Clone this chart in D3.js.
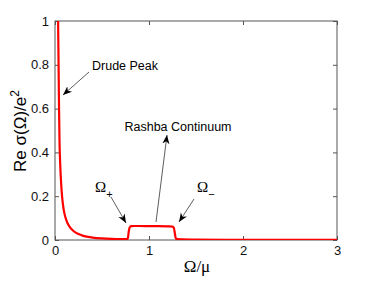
<!DOCTYPE html>
<html><head><meta charset="utf-8">
<script src="https://cdn.jsdelivr.net/npm/d3@7"></script>
<style>body{margin:0;background:#fff}svg{display:block}</style>
</head><body>
<script>
const omega = [0.033,0.038,0.043,0.048,0.055,0.065,0.075,0.09,0.11,0.13,0.16,0.2,0.25,0.3,0.4,0.5,0.6,0.7,0.76,0.775,0.785,0.795,0.81,0.85,0.9,1.0,1.1,1.2,1.25,1.265,1.275,1.285,1.3,1.35,1.5,2.0,2.5,3.0];
const sigma = [1.0,0.8,0.6,0.45,0.35,0.26,0.2,0.145,0.105,0.08,0.058,0.04,0.027,0.019,0.011,0.007,0.005,0.004,0.004,0.008,0.04,0.058,0.063,0.064,0.064,0.063,0.063,0.062,0.061,0.055,0.03,0.008,0.004,0.003,0.002,0.001,0.001,0.001];
const xTicks = [0,1,2,3];
const yTicks = [0,0.2,0.4,0.6,0.8,1];
const yTickLabels = ["0","0.2","0.4","0.6","0.8","1"];

const W=374,H=281;
const svg=d3.select("body").append("svg").attr("width",W).attr("height",H);
const x=d3.scaleLinear().domain([0,3]).range([55,337]);
const y=d3.scaleLinear().domain([0,1]).range([240,21]);
const font="Liberation Sans, Arial, sans-serif";
const axCol="#555";

svg.append("defs").append("clipPath").attr("id","clip").append("rect")
  .attr("x",x(0)).attr("y",y(1)).attr("width",x(3)-x(0)).attr("height",y(0)-y(1));

svg.append("rect").attr("x",x(0)).attr("y",y(1)).attr("width",x(3)-x(0)).attr("height",y(0)-y(1))
  .attr("fill","none").attr("stroke",axCol).attr("stroke-width",1);

const tl=4;
const xB=d3.axisBottom(x).tickValues(xTicks).tickSize(-tl).tickPadding(6).tickFormat(d3.format("d"));
const gxb=svg.append("g").attr("transform",`translate(0,${y(0)})`).call(xB);
const xT=d3.axisTop(x).tickValues(xTicks).tickSize(-tl).tickFormat("");
const gxt=svg.append("g").attr("transform",`translate(0,${y(1)})`).call(xT);
const yL=d3.axisLeft(y).tickValues(yTicks).tickSize(-tl).tickPadding(6).tickFormat((d,i)=>yTickLabels[i]);
const gyl=svg.append("g").attr("transform",`translate(${x(0)},0)`).call(yL);
const yR=d3.axisRight(y).tickValues(yTicks).tickSize(-tl).tickFormat("");
const gyr=svg.append("g").attr("transform",`translate(${x(3)},0)`).call(yR);
[gxb,gxt,gyl,gyr].forEach(g=>{
  g.select(".domain").remove();
  g.selectAll(".tick line").attr("stroke",axCol);
  g.selectAll("text").attr("font-family",font).attr("font-size",13).attr("fill","#111");
});

const pts=omega.map((o,i)=>[o,sigma[i]]);
const line=d3.line().x(d=>x(d[0])).y(d=>y(d[1])).curve(d3.curveMonotoneX);
svg.append("path").datum(pts).attr("d",line).attr("clip-path","url(#clip)")
  .attr("fill","none").attr("stroke","#ff0000").attr("stroke-width",2.2);

svg.append("text").attr("x",197).attr("y",272).attr("text-anchor","middle")
  .attr("font-family","Liberation Serif, Times New Roman, serif").attr("font-size",17).text("Ω/μ");
const yl=svg.append("text").attr("transform","translate(26,131) rotate(-90)").attr("text-anchor","middle")
  .attr("font-family",font).attr("font-size",17);
yl.append("tspan").text("Re σ(Ω)/e");
yl.append("tspan").attr("dy",-7).attr("font-size",12).text("2");

const defs=svg.select("defs");
defs.append("marker").attr("id","arr").attr("viewBox","0 0 10 10").attr("refX",10).attr("refY",5)
  .attr("markerWidth",9).attr("markerHeight",9).attr("markerUnits","userSpaceOnUse").attr("orient","auto")
  .append("path").attr("d","M0,1 L10,5 L0,9 L3,5 Z").attr("fill","#000");

function arrow(x1,y1,x2,y2){
  svg.append("line").attr("x1",x1).attr("y1",y1).attr("x2",x2).attr("y2",y2)
    .attr("stroke","#333").attr("stroke-width",0.8).attr("marker-end","url(#arr)");
}
const afont=12.5;
svg.append("text").attr("x",92).attr("y",70).attr("font-family",font).attr("font-size",afont).text("Drude Peak");
arrow(89,72,63,95);
svg.append("text").attr("x",178).attr("y",131).attr("text-anchor","middle").attr("font-family",font).attr("font-size",afont).text("Rashba Continuum");
arrow(156,222,167,135);
const op=svg.append("text").attr("x",95).attr("y",192).attr("font-family","Liberation Serif, Times New Roman, serif").attr("font-size",15);
op.append("tspan").text("Ω");
op.append("tspan").attr("dy",6).attr("font-size",11).attr("font-family",font).text("+");
arrow(111,197,126,223);
const om=svg.append("text").attr("x",197).attr("y",192).attr("font-family","Liberation Serif, Times New Roman, serif").attr("font-size",15);
om.append("tspan").text("Ω");
om.append("tspan").attr("dy",6).attr("font-size",11).attr("font-family",font).text("−");
arrow(194,199,179,222);
</script>
</body></html>
